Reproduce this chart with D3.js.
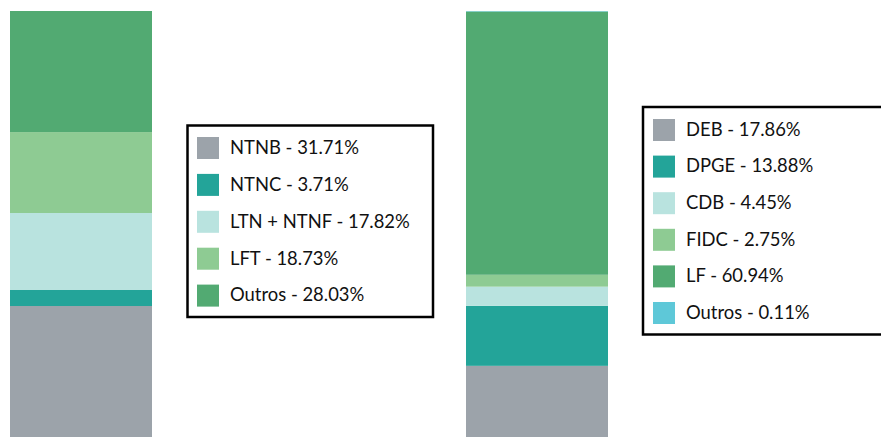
<!DOCTYPE html>
<html>
<head>
<meta charset="utf-8">
<script src="https://cdn.jsdelivr.net/npm/d3@7"></script>
<style>
  html, body { margin: 0; padding: 0; background: #fff; overflow: hidden; }
  svg { display: block; }
</style>
</head>
<body>
<svg id="chart" width="881" height="437"></svg>
<script>
// ---- Data ----
const leftCategories = ["NTNB", "NTNC", "LTN + NTNF", "LFT", "Outros"];
const leftValues = [31.71, 3.71, 17.82, 18.73, 28.03];
const leftColors = ["#9ca3aa", "#23a499", "#b9e3df", "#8ecb93", "#52aa72"];

const rightCategories = ["DEB", "DPGE", "CDB", "FIDC", "LF", "Outros"];
const rightValues = [17.86, 13.88, 4.45, 2.75, 60.94, 0.11];
const rightColors = ["#9ca3aa", "#23a499", "#b9e3df", "#8ecb93", "#52aa72", "#5ec8d8"];

const barNames = ["Títulos Públicos", "Crédito Privado"];

// ---- Setup ----
const svg = d3.select("#chart");
const FONT = "Lato, 'Open Sans', sans-serif";

const x = d3.scaleBand().domain(barNames).range([10, 608])
  .paddingInner(1 - 142 / 456).paddingOuter(0);
const y = d3.scaleLinear().domain([0, 100]).range([443, 11]);

function stackOf(cats, vals) {
  let acc = 0;
  return cats.map((c, i) => {
    const d = { cat: c, v: vals[i], y0: acc, y1: acc + vals[i], i };
    acc += vals[i];
    return d;
  });
}

const bars = [
  { name: barNames[0], segs: stackOf(leftCategories, leftValues), colors: leftColors },
  { name: barNames[1], segs: stackOf(rightCategories, rightValues), colors: rightColors }
];

bars.forEach(b => {
  svg.append("g").selectAll("rect").data(b.segs).join("rect")
    .attr("x", x(b.name))
    .attr("width", x.bandwidth())
    .attr("y", d => y(d.y1))
    .attr("height", d => y(d.y0) - y(d.y1))
    .attr("fill", d => b.colors[d.i]);
});

// ---- Legends ----
function fmt(v) { return v.toFixed(2) + "%"; }

// measure font size to match reference text width
const probe = svg.append("text").attr("font-family", FONT).attr("font-size", 20)
  .text("LTN + NTNF - 17.82%");
const w20 = probe.node().getComputedTextLength();
probe.remove();
const fontSize = 20 * 180 / w20;

function legend(cfg) {
  const g = svg.append("g");
  g.append("rect")
    .attr("x", cfg.bx).attr("y", cfg.by)
    .attr("width", cfg.bw).attr("height", cfg.bh)
    .attr("fill", "#fff").attr("stroke", "#000").attr("stroke-width", 2.5);
  const rows = g.selectAll("g.row").data(cfg.cats).join("g")
    .attr("transform", (d, i) => `translate(0,${cfg.sy + i * cfg.step})`);
  rows.append("rect")
    .attr("x", cfg.sx).attr("y", 0).attr("width", 22).attr("height", 22)
    .attr("fill", (d, i) => cfg.colors[i]);
  rows.append("text")
    .attr("x", cfg.tx).attr("y", 11 + 5.8)
    .attr("font-family", FONT).attr("font-size", fontSize)
    .attr("fill", "#111")
    .text((d, i) => `${d} - ${fmt(cfg.vals[i])}`);
}

legend({
  bx: 187.5, by: 125.5, bw: 245.5, bh: 191.5,
  sx: 197, sy: 137, step: 36.9, tx: 230,
  cats: leftCategories, vals: leftValues, colors: leftColors
});
legend({
  bx: 643, by: 107, bw: 260, bh: 227.5,
  sx: 653, sy: 119, step: 36.6, tx: 686,
  cats: rightCategories, vals: rightValues, colors: rightColors
});
</script>
</body>
</html>
